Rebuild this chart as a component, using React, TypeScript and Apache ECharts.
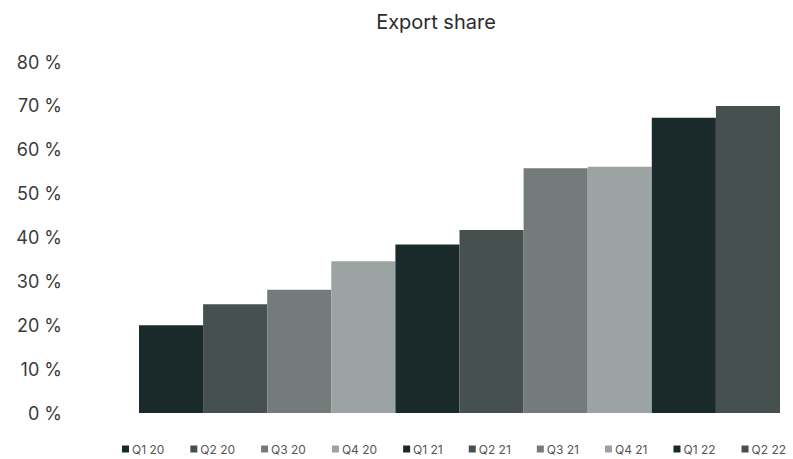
import React, { useEffect, useRef } from "react";
import * as echarts from "echarts";

const seriesNames = ["Q1 20", "Q2 20", "Q3 20", "Q4 20", "Q1 21", "Q2 21", "Q3 21", "Q4 21", "Q1 22", "Q2 22"];
const seriesValues = [20, 24.8, 28.1, 34.6, 38.4, 41.7, 55.8, 56.1, 67.3, 70.0];
const seriesColors = ["#1a2a2b", "#46504f", "#747c7b", "#9ba4a2", "#1a2a2b", "#46504f", "#747c7b", "#9ba4a2", "#1a2a2b", "#46504f"];
const category = [""];
const titleText = "Export share";

const FONT = "Inter, 'Liberation Sans', sans-serif";

export default function App() {
  const ref = useRef<HTMLDivElement>(null);
  useEffect(() => {
    document.body.style.margin = "0";
    if (!ref.current) return;
    const chart = echarts.init(ref.current, null, { renderer: "svg" });
    chart.setOption({
      animation: false,
      backgroundColor: "#ffffff",
      title: {
        text: titleText,
        left: 431,
        top: 7,
        textAlign: "center",
        textStyle: { fontFamily: FONT, fontSize: 20, fontWeight: "normal", color: "#2b2b2b" },
      },
      legend: {
        data: seriesNames,
        left: 122,
        top: 443,
        width: 680,
        orient: "horizontal",
        itemWidth: 7,
        itemHeight: 7,
        itemGap: 26,
        icon: "rect",
        padding: 0,
        textStyle: { fontFamily: FONT, fontSize: 12, color: "#555", padding: [0, 0, 0, -2] },
      },
      grid: { left: 139, right: 13, top: 62, bottom: 46 },
      xAxis: {
        type: "category",
        data: category,
        axisLine: { show: false },
        axisTick: { show: false },
        axisLabel: { show: false },
      },
      yAxis: {
        type: "value",
        min: 0,
        max: 80,
        interval: 10,
        splitLine: { show: false },
        axisLine: { show: false },
        axisTick: { show: false },
        axisLabel: {
          formatter: "{value} %",
          margin: 77,
          fontFamily: FONT,
          fontSize: 18,
          color: "#3a3a3a",
        },
      },
      series: seriesNames.map((n, i) => ({
        name: n,
        type: "bar",
        data: [seriesValues[i]],
        barGap: "0%",
        barCategoryGap: "0%",
        itemStyle: { color: seriesColors[i] },
      })),
    });
    return () => chart.dispose();
  }, []);
  return <div ref={ref} style={{ width: 793, height: 459 }} />;
}
